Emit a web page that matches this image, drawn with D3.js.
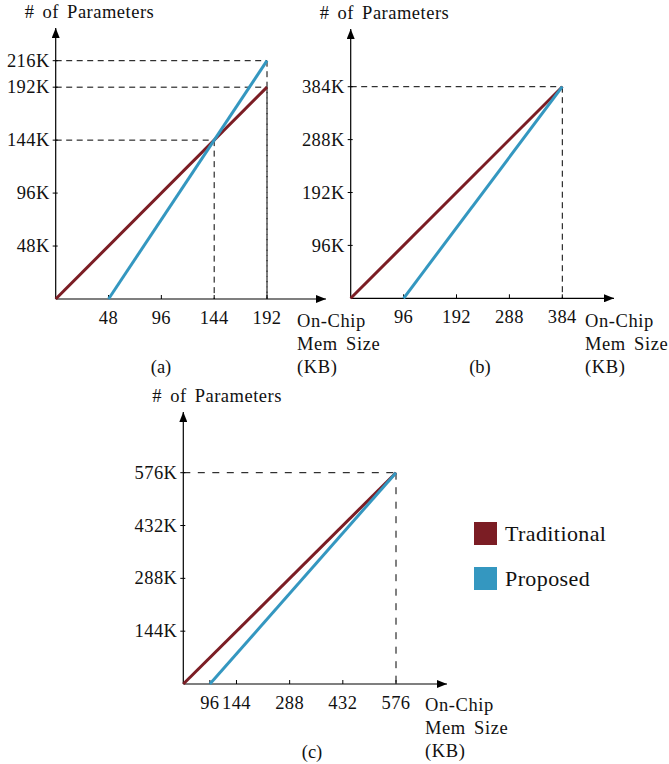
<!DOCTYPE html>
<html>
<head>
<meta charset="utf-8">
<script src="https://cdn.jsdelivr.net/npm/d3@7"></script>
<style>
  body { margin: 0; background: #fff; }
  svg text { font-family: "Liberation Serif", "DejaVu Serif", serif; fill: #111; }
</style>
</head>
<body>
<div id="chart"></div>
<script>
// values (x in KB, y in K parameters)
const traditionalA = [[0, 0], [192, 192]];
const proposedA = [[48, 0], [192, 216]];
const traditionalB = [[0, 0], [384, 384]];
const proposedB = [[96, 0], [384, 384]];
const traditionalC = [[0, 0], [576, 576]];
const proposedC = [[72, 0], [576, 576]]; // starts under the "96" tick as drawn

const xTicksA = [48, 96, 144, 192];
const xTicksB = [96, 192, 288, 384];
const xTicksC = [72, 144, 288, 432, 576];
const xTickLabelsC = ['96', '144', '288', '432', '576'];

const yTicksA = [48, 96, 144, 192, 216];
const yTicksB = [96, 192, 288, 384];
const yTicksC = [144, 288, 432, 576];

// corner points of the dashed guide lines
const guidesA = [[192, 216], [192, 192], [144, 144]];
const guidesB = [[384, 384]];
const guidesC = [[576, 576]];

const seriesNames = ['Traditional', 'Proposed'];
const colors = ['#7b1d24', '#3497c0'];

const width = 669, height = 764;

const svg = d3.select('#chart')
    .append('svg')
    .attr('width', width)
    .attr('height', height);

const defs = svg.append('defs');
defs.append('marker')
    .attr('id', 'arrow')
    .attr('viewBox', '0 0 10 8')
    .attr('refX', 10)
    .attr('refY', 4)
    .attr('markerWidth', 10)
    .attr('markerHeight', 8)
    .attr('markerUnits', 'userSpaceOnUse')
    .attr('orient', 'auto')
    .append('path')
    .attr('d', 'M0,0 L10,4 L0,8 Z')
    .attr('fill', '#000');

const panels = [
    {label: '(a)', xMax: 192, yMax: 216, xRange: [55.7, 267], yRange: [299, 60.7], xTip: 326, yTip: 28,
     xTicks: xTicksA, xLabels: xTicksA.map(String), yTicks: yTicksA,
     traditional: traditionalA, proposed: proposedA, guides: guidesA, dash: '6,4.5',
     unitX: 297, unitY: 327, capX: 161, capY: 373},
    {label: '(b)', xMax: 384, yMax: 384, xRange: [350.7, 562.3], yRange: [298.3, 86.7], xTip: 614, yTip: 29,
     xTicks: xTicksB, xLabels: xTicksB.map(String), yTicks: yTicksB,
     traditional: traditionalB, proposed: proposedB, guides: guidesB, dash: '6,4.5',
     unitX: 585, unitY: 327, capX: 480, capY: 373},
    {label: '(c)', xMax: 576, yMax: 576, xRange: [183.3, 396], yRange: [684, 472.7], xTip: 447, yTip: 412,
     xTicks: xTicksC, xLabels: xTickLabelsC, yTicks: yTicksC,
     traditional: traditionalC, proposed: proposedC, guides: guidesC, dash: '7,7.5',
     unitX: 425, unitY: 711, capX: 312, capY: 758}
];

panels.forEach(function(p) {
    const x = d3.scaleLinear().domain([0, p.xMax]).range(p.xRange);
    const y = d3.scaleLinear().domain([0, p.yMax]).range(p.yRange);
    const g = svg.append('g');
    const x0 = x(0), y0 = y(0);

    // dashed guides
    p.guides.forEach(function(d) {
        g.append('line')
            .attr('x1', x0).attr('y1', y(d[1]))
            .attr('x2', x(d[0])).attr('y2', y(d[1]))
            .attr('stroke', '#000').attr('stroke-width', 1)
            .attr('stroke-dasharray', p.dash);
        g.append('line')
            .attr('x1', x(d[0])).attr('y1', y(d[1]))
            .attr('x2', x(d[0])).attr('y2', y0)
            .attr('stroke', '#000').attr('stroke-width', 1)
            .attr('stroke-dasharray', p.dash);
    });

    // axes with arrow heads
    g.append('line')
        .attr('x1', x0).attr('y1', y0)
        .attr('x2', p.xTip).attr('y2', y0)
        .attr('stroke', '#000').attr('stroke-width', 1.2)
        .attr('marker-end', 'url(#arrow)');
    g.append('line')
        .attr('x1', x0).attr('y1', y0)
        .attr('x2', x0).attr('y2', p.yTip)
        .attr('stroke', '#000').attr('stroke-width', 1.2)
        .attr('marker-end', 'url(#arrow)');

    // x ticks
    g.selectAll('.xtick')
        .data(p.xTicks)
        .enter()
        .append('line')
        .attr('x1', d => x(d)).attr('x2', d => x(d))
        .attr('y1', y0).attr('y2', y0 - 4)
        .attr('stroke', '#000').attr('stroke-width', 1);
    g.selectAll('.xlabel')
        .data(p.xTicks)
        .enter()
        .append('text')
        .attr('x', d => x(d))
        .attr('y', y0 + 25)
        .attr('text-anchor', 'middle')
        .style('font-size', '18.5px')
        .style('letter-spacing', '0.4px')
        .text((d, i) => p.xLabels[i]);

    // y ticks
    g.selectAll('.ytick')
        .data(p.yTicks)
        .enter()
        .append('line')
        .attr('x1', x0 - 3).attr('x2', x0 + 2)
        .attr('y1', d => y(d)).attr('y2', d => y(d))
        .attr('stroke', '#000').attr('stroke-width', 1);
    g.selectAll('.ylabel')
        .data(p.yTicks)
        .enter()
        .append('text')
        .attr('x', x0 - 6)
        .attr('y', d => y(d))
        .attr('dy', '0.33em')
        .attr('text-anchor', 'end')
        .style('font-size', '18.5px')
        .style('letter-spacing', '0.4px')
        .text(d => d + 'K');

    // series lines
    const line = d3.line().x(d => x(d[0])).y(d => y(d[1]));
    [p.traditional, p.proposed].forEach(function(s, i) {
        g.append('path')
            .attr('d', line(s))
            .attr('fill', 'none')
            .attr('stroke', colors[i])
            .attr('stroke-width', 3);
    });

    // axis titles
    g.append('text')
        .attr('x', x0 - 31)
        .attr('y', p.yTip - 10)
        .style('font-size', '18.5px')
        .style('word-spacing', '3px')
        .style('letter-spacing', '0.5px')
        .text('# of Parameters');

    ['On-Chip', 'Mem Size', '(KB)'].forEach(function(t, i) {
        g.append('text')
            .attr('x', p.unitX)
            .attr('y', p.unitY + i * 23)
            .style('font-size', '18.5px')
            .style('letter-spacing', '0.6px')
            .style('word-spacing', '3px')
            .text(t);
    });

    g.append('text')
        .attr('x', p.capX)
        .attr('y', p.capY)
        .attr('text-anchor', 'middle')
        .style('font-size', '18.5px')
        .text(p.label);
});

// legend
const legend = svg.append('g').attr('transform', 'translate(474,522)');
seriesNames.forEach(function(name, i) {
    legend.append('rect')
        .attr('x', 0)
        .attr('y', i * 45)
        .attr('width', 23)
        .attr('height', 23)
        .attr('fill', colors[i]);
    legend.append('text')
        .attr('x', 31)
        .attr('y', i * 45 + 19)
        .style('font-size', '22px')
        .style('letter-spacing', '0.4px')
        .text(name);
});
</script>
</body>
</html>
